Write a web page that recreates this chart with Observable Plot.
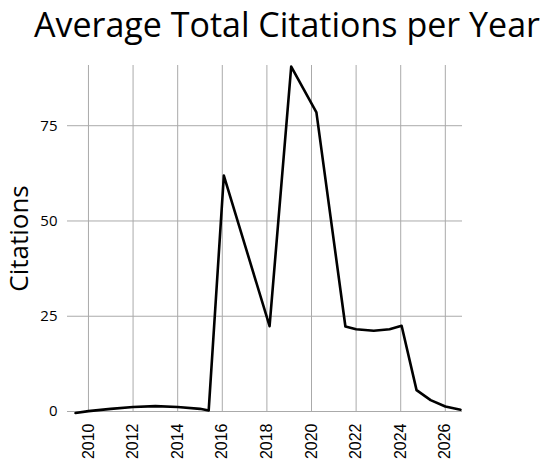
<!DOCTYPE html>
<html>
<head>
<meta charset="utf-8">
<script src="https://cdn.jsdelivr.net/npm/d3@7"></script>
<script src="https://cdn.jsdelivr.net/npm/@observablehq/plot@0.6"></script>
<style>
  html, body { margin: 0; padding: 0; background: #fff; }
  #wrap { width: 550px; }
  #title { height: 50px; width: 520px; padding: 3.5px 0 0 34px; box-sizing: border-box; font-family: "Open Sans", sans-serif; font-size: 34px; line-height: 40px; color: #000; white-space: nowrap; margin: 0; font-weight: normal; }
  #chart svg { display: block; }
  g[aria-label="y-axis label"] text { font-size: 26px; font-family: "Open Sans", sans-serif; }
  g[aria-label="x-axis tick label"] text { font-family: "Liberation Sans", Arial, sans-serif; }
</style>
</head>
<body>
<div id="wrap">
  <h1 id="title"></h1>
  <div id="chart"></div>
</div>
<script>
const titleText = "Average Total Citations per Year";
const yLabel = "Citations";
const years = [2009.42, 2010, 2011, 2012, 2013, 2014, 2015, 2015.39, 2016.07, 2018.12, 2019.09, 2020.22, 2021.52, 2022, 2022.79, 2023.5, 2024.04, 2024.71, 2025.34, 2026, 2026.68];
const citations = [-0.4, 0.1, 0.7, 1.2, 1.4, 1.2, 0.7, 0.25, 61.9, 22.4, 90.5, 78.5, 22.3, 21.6, 21.2, 21.6, 22.5, 5.6, 3.0, 1.3, 0.45];
const xTicks = [2010, 2012, 2014, 2016, 2018, 2020, 2022, 2024, 2026];
const yTicks = [0, 25, 50, 75];

document.getElementById("title").textContent = titleText;

const data = years.map((y, i) => ({year: y, value: citations[i]}));

const chart = Plot.plot({
  width: 550,
  height: 424,
  marginLeft: 67,
  marginRight: 88,
  marginTop: 15,
  marginBottom: 63,
  style: { fontFamily: "'Open Sans', sans-serif", fontSize: "15px", color: "#000", background: "#fff" },
  x: { domain: [2009.06, 2026.77] },
  y: { domain: [0, 90.8] },
  marks: [
    Plot.gridX(xTicks, { stroke: "#aaa", strokeOpacity: 1 }),
    Plot.gridY(yTicks, { stroke: "#aaa", strokeOpacity: 1 }),
    Plot.axisY(yTicks, { tickSize: 0, tickPadding: 10, fontSize: 15, label: yLabel, labelAnchor: "center", labelArrow: "none", labelOffset: 58 }),
    Plot.axisX(xTicks, { tickSize: 0, tickPadding: 12, tickRotate: -90, fontSize: 16, tickFormat: d => String(d), label: null }),
    Plot.line(data, { x: "year", y: "value", stroke: "#000", strokeWidth: 2.6, clip: false })
  ]
});
document.getElementById("chart").appendChild(chart);
</script>
</body>
</html>
